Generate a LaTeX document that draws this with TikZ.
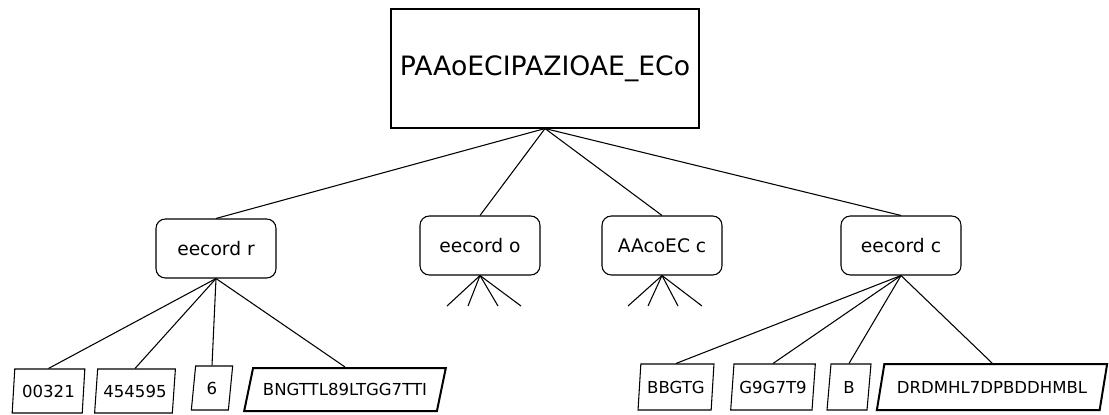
\documentclass[tikz,border=0pt]{standalone}
\usepackage{fontspec}
\setmainfont{DejaVu Sans}
\usetikzlibrary{shapes.geometric}

\begin{document}
\begin{tikzpicture}[x=0.75pt, y=-0.75pt, line width=0.8pt,
    rootbox/.style={draw, rectangle, minimum width=231pt, minimum height=89.25pt, font=\fontsize{20}{23}\selectfont},
    recbox/.style={draw, rectangle, rounded corners=7pt, minimum width=90pt, minimum height=44.25pt, font=\fontsize{14}{16}\selectfont},
    leafbox/.style={draw, trapezium, trapezium stretches=true, inner sep=1pt, font=\fontsize{12.4}{14}\selectfont},
    bigleaf/.style={leafbox, line width=1.5pt}]
                \useasboundingbox (0,0) rectangle (1109,414);
                \node[rootbox] (root) at (545, 68.5) {PAAoECIPAZIOAE\_ECo};
                \node[recbox] (r) at (216, 248.5) {eecord r};
                \node[recbox] (o) at (480, 245.5) {eecord o};
                \node[recbox] (a) at (662, 245.5) {AAcoEC c};
                \node[recbox] (c) at (901, 245.5) {eecord c};
                
                \node[leafbox, trapezium left angle=82, trapezium right angle=98, minimum width=54.75pt, minimum height=33pt] (r1) at (48.5, 391) {00321};
                \node[leafbox, trapezium left angle=80, trapezium right angle=100, minimum width=60.75pt, minimum height=33pt] (r2) at (135, 391) {454595};
                \node[leafbox, trapezium left angle=83.5, trapezium right angle=96.5, minimum width=31pt, minimum height=33pt] (r3) at (212, 388) {6};
                \node[bigleaf, trapezium left angle=62, trapezium right angle=118, minimum width=151.5pt, minimum height=32.25pt] (r4) at (345, 389.5) {BNGTTL89LTGG7TTI};
                \node[leafbox, trapezium left angle=81, trapezium right angle=99, minimum width=57pt, minimum height=34.5pt] (c1) at (676, 387) {BBGTG};
                \node[leafbox, trapezium left angle=79, trapezium right angle=101, minimum width=63.75pt, minimum height=34.5pt] (c2) at (773, 387) {G9G7T9};
                \node[leafbox, trapezium left angle=84, trapezium right angle=96, minimum width=33pt, minimum height=34.5pt] (c3) at (849, 387) {B};
                \node[bigleaf, trapezium left angle=65.5, trapezium right angle=114.5, minimum width=173pt, minimum height=34.5pt] (c4) at (992, 387) {DRDMHL7DPBDDHMBL};
                
                \coordinate (o1) at (447, 306);
                \coordinate (o2) at (468, 306);
                \coordinate (o3) at (498, 306);
                \coordinate (o4) at (521, 306);
                \coordinate (a1) at (628, 306);
                \coordinate (a2) at (648, 306);
                \coordinate (a3) at (678, 306);
                \coordinate (a4) at (702, 306);
                
                \draw (root.south) -- (r.north);
                \draw (root.south) -- (o.north);
                \draw (root.south) -- (a.north);
                \draw (root.south) -- (c.north);
                
                \draw (r.south) -- (r1.north);
                \draw (r.south) -- (r2.north);
                \draw (r.south) -- (r3.north);
                \draw (r.south) -- (r4.north);
                
                \draw (o.south) -- (o1);
                \draw (o.south) -- (o2);
                \draw (o.south) -- (o3);
                \draw (o.south) -- (o4);
                
                \draw (a.south) -- (a1);
                \draw (a.south) -- (a2);
                \draw (a.south) -- (a3);
                \draw (a.south) -- (a4);
                
                \draw (c.south) -- (c1.north);
                \draw (c.south) -- (c2.north);
                \draw (c.south) -- (c3.north);
                \draw (c.south) -- (c4.north);
            \end{tikzpicture}
\end{document}
